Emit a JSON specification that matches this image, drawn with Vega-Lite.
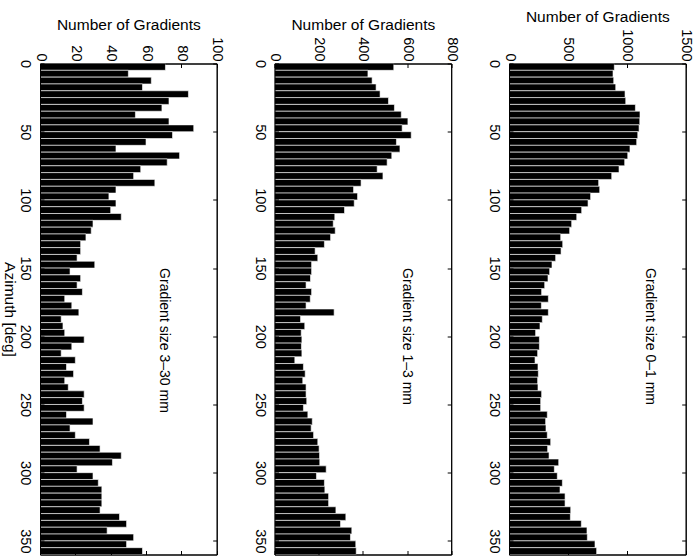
{
  "$schema": "https://vega.github.io/schema/vega-lite/v6.json",
  "autosize": {"type": "pad"},
  "padding": {"left": 0, "top": 8.5, "right": 1, "bottom": 0},
  "background": "white",
  "bounds": "flush",
  "spacing": 57.5,
  "config": {
    "view": {"stroke": "black", "strokeWidth": 1},
    "axis": {"domainColor": "black", "tickColor": "black", "labelColor": "black", "titleColor": "black", "labelFont": "Liberation Sans", "titleFont": "Liberation Sans", "titleFontWeight": "normal", "grid": false, "domainWidth": 1, "tickWidth": 1, "labelFontSize": 14.5, "titleFontSize": 15.5}
  },
  "datasets": {
    "p1": [
      {"a":0,"b":5,"n":894},{"a":5,"b":10,"n":883},{"a":10,"b":15,"n":889},{"a":15,"b":20,"n":906},{"a":20,"b":25,"n":985},{"a":25,"b":30,"n":991},{"a":30,"b":35,"n":1073},{"a":35,"b":40,"n":1112},{"a":40,"b":45,"n":1110},{"a":45,"b":50,"n":1104},{"a":50,"b":55,"n":1093},{"a":55,"b":60,"n":1084},{"a":60,"b":65,"n":1027},{"a":65,"b":70,"n":1008},{"a":70,"b":75,"n":982},{"a":75,"b":80,"n":934},{"a":80,"b":85,"n":872},{"a":85,"b":90,"n":761},{"a":90,"b":95,"n":770},{"a":95,"b":100,"n":693},
      {"a":100,"b":105,"n":671},{"a":105,"b":110,"n":617},{"a":110,"b":115,"n":575},{"a":115,"b":120,"n":532},{"a":120,"b":125,"n":515},{"a":125,"b":130,"n":439},{"a":130,"b":135,"n":456},{"a":135,"b":140,"n":442},{"a":140,"b":145,"n":396},{"a":145,"b":150,"n":365},{"a":150,"b":155,"n":345},{"a":155,"b":160,"n":331},{"a":160,"b":165,"n":303},{"a":165,"b":170,"n":277},{"a":170,"b":175,"n":334},{"a":175,"b":180,"n":275},{"a":180,"b":185,"n":334},{"a":185,"b":190,"n":283},{"a":190,"b":195,"n":263},{"a":195,"b":200,"n":226},
      {"a":200,"b":205,"n":258},{"a":205,"b":210,"n":258},{"a":210,"b":215,"n":243},{"a":215,"b":220,"n":221},{"a":220,"b":225,"n":246},{"a":225,"b":230,"n":249},{"a":230,"b":235,"n":243},{"a":235,"b":240,"n":246},{"a":240,"b":245,"n":277},{"a":245,"b":250,"n":269},{"a":250,"b":255,"n":269},{"a":255,"b":260,"n":325},{"a":260,"b":265,"n":311},{"a":265,"b":270,"n":314},{"a":270,"b":275,"n":325},{"a":275,"b":280,"n":354},{"a":280,"b":285,"n":328},{"a":285,"b":290,"n":340},{"a":290,"b":295,"n":422},{"a":295,"b":300,"n":385},
      {"a":300,"b":305,"n":410},{"a":305,"b":310,"n":453},{"a":310,"b":315,"n":433},{"a":315,"b":320,"n":476},{"a":320,"b":325,"n":476},{"a":325,"b":330,"n":524},{"a":330,"b":335,"n":521},{"a":335,"b":340,"n":614},{"a":340,"b":345,"n":662},{"a":345,"b":350,"n":665},{"a":350,"b":355,"n":730},{"a":355,"b":360,"n":744}
    ],
    "p2": [
      {"a":0,"b":5,"n":540},{"a":5,"b":10,"n":423},{"a":10,"b":15,"n":442},{"a":15,"b":20,"n":460},{"a":20,"b":25,"n":478},{"a":25,"b":30,"n":516},{"a":30,"b":35,"n":543},{"a":35,"b":40,"n":574},{"a":40,"b":45,"n":604},{"a":45,"b":50,"n":578},{"a":50,"b":55,"n":619},{"a":55,"b":60,"n":552},{"a":60,"b":65,"n":568},{"a":65,"b":70,"n":531},{"a":70,"b":75,"n":510},{"a":75,"b":80,"n":465},{"a":80,"b":85,"n":491},{"a":85,"b":90,"n":392},{"a":90,"b":95,"n":358},{"a":95,"b":100,"n":376},
      {"a":100,"b":105,"n":361},{"a":105,"b":110,"n":317},{"a":110,"b":115,"n":273},{"a":115,"b":120,"n":266},{"a":120,"b":125,"n":275},{"a":125,"b":130,"n":254},{"a":130,"b":135,"n":226},{"a":135,"b":140,"n":184},{"a":140,"b":145,"n":196},{"a":145,"b":150,"n":168},{"a":150,"b":155,"n":168},{"a":155,"b":160,"n":163},{"a":160,"b":165,"n":143},{"a":165,"b":170,"n":168},{"a":170,"b":175,"n":162},{"a":175,"b":180,"n":143},{"a":180,"b":185,"n":270},{"a":185,"b":190,"n":118},{"a":190,"b":195,"n":137},{"a":195,"b":200,"n":121},
      {"a":200,"b":205,"n":124},{"a":205,"b":210,"n":122},{"a":210,"b":215,"n":124},{"a":215,"b":220,"n":92},{"a":220,"b":225,"n":131},{"a":225,"b":230,"n":139},{"a":230,"b":235,"n":128},{"a":235,"b":240,"n":143},{"a":240,"b":245,"n":143},{"a":245,"b":250,"n":146},{"a":250,"b":255,"n":131},{"a":255,"b":260,"n":151},{"a":260,"b":265,"n":171},{"a":265,"b":270,"n":166},{"a":270,"b":275,"n":177},{"a":275,"b":280,"n":196},{"a":280,"b":285,"n":202},{"a":285,"b":290,"n":204},{"a":290,"b":295,"n":205},{"a":295,"b":300,"n":234},
      {"a":300,"b":305,"n":190},{"a":305,"b":310,"n":226},{"a":310,"b":315,"n":228},{"a":315,"b":320,"n":245},{"a":320,"b":325,"n":245},{"a":325,"b":330,"n":278},{"a":330,"b":335,"n":323},{"a":335,"b":340,"n":299},{"a":340,"b":345,"n":350},{"a":345,"b":350,"n":344},{"a":350,"b":355,"n":368},{"a":355,"b":360,"n":370}
    ],
    "p3": [
      {"a":0,"b":5,"n":71},{"a":5,"b":10,"n":50},{"a":10,"b":15,"n":63},{"a":15,"b":20,"n":58},{"a":20,"b":25,"n":84},{"a":25,"b":30,"n":73},{"a":30,"b":35,"n":69},{"a":35,"b":40,"n":54},{"a":40,"b":45,"n":73},{"a":45,"b":50,"n":87},{"a":50,"b":55,"n":75},{"a":55,"b":60,"n":60},{"a":60,"b":65,"n":43},{"a":65,"b":70,"n":79},{"a":70,"b":75,"n":72},{"a":75,"b":80,"n":57},{"a":80,"b":85,"n":53},{"a":85,"b":90,"n":65},{"a":90,"b":95,"n":43},{"a":95,"b":100,"n":39},
      {"a":100,"b":105,"n":43},{"a":105,"b":110,"n":40},{"a":110,"b":115,"n":46},{"a":115,"b":120,"n":30},{"a":120,"b":125,"n":29},{"a":125,"b":130,"n":26},{"a":130,"b":135,"n":23},{"a":135,"b":140,"n":23},{"a":140,"b":145,"n":21},{"a":145,"b":150,"n":31},{"a":150,"b":155,"n":17},{"a":155,"b":160,"n":23},{"a":160,"b":165,"n":21},{"a":165,"b":170,"n":24},{"a":170,"b":175,"n":14},{"a":175,"b":180,"n":18},{"a":180,"b":185,"n":22},{"a":185,"b":190,"n":12},{"a":190,"b":195,"n":13},{"a":195,"b":200,"n":14},
      {"a":200,"b":205,"n":25},{"a":205,"b":210,"n":18},{"a":210,"b":215,"n":12},{"a":215,"b":220,"n":20},{"a":220,"b":225,"n":15},{"a":225,"b":230,"n":19},{"a":230,"b":235,"n":14},{"a":235,"b":240,"n":16},{"a":240,"b":245,"n":25},{"a":245,"b":250,"n":24},{"a":250,"b":255,"n":25},{"a":255,"b":260,"n":15},{"a":260,"b":265,"n":30},{"a":265,"b":270,"n":17},{"a":270,"b":275,"n":20},{"a":275,"b":280,"n":28},{"a":280,"b":285,"n":34},{"a":285,"b":290,"n":46},{"a":290,"b":295,"n":41},{"a":295,"b":300,"n":21},
      {"a":300,"b":305,"n":30},{"a":305,"b":310,"n":33},{"a":310,"b":315,"n":35},{"a":315,"b":320,"n":35},{"a":320,"b":325,"n":35},{"a":325,"b":330,"n":34},{"a":330,"b":335,"n":45},{"a":335,"b":340,"n":49},{"a":340,"b":345,"n":38},{"a":345,"b":350,"n":53},{"a":350,"b":355,"n":49},{"a":355,"b":360,"n":58}
    ]
  },
  "hconcat": [
    {
      "width": 176.7, "height": 491,
      "layer": [
        {
          "data": {"name": "p3"},
          "mark": {"type": "rect", "fill": "black", "stroke": "white", "strokeWidth": 0.6},
          "encoding": {
            "y": {"field": "a", "type": "quantitative", "scale": {"domain": [0, 360], "nice": false, "reverse": true, "zero": false},
                  "axis": {"orient": "left", "values": [0,50,100,150,200,250,300,350], "format": "d", "tickSize": -4, "labelAngle": 90, "labelAlign": "center", "labelBaseline": "top", "labelPadding": 12.5, "title": "Azimuth [deg]", "titleAngle": 90, "titleAlign": "center", "titleBaseline": "top", "titleX": -24, "titleY": 245.5, "zindex": 1}},
            "y2": {"field": "b"},
            "x": {"field": "n", "type": "quantitative", "scale": {"domain": [0, 100], "nice": false},
                  "axis": {"orient": "top", "values": [0,20,40,60,80,100], "format": "d", "tickSize": -4, "labelAngle": 90, "labelAlign": "right", "labelBaseline": "middle", "labelPadding": 6.5, "title": "Number of Gradients", "titlePadding": 4, "zindex": 1}},
            "x2": {"datum": 0}
          }
        },
        {
          "data": {"values": [{}]},
          "mark": {"type": "text", "angle": 90, "align": "left", "baseline": "middle", "fontSize": 14, "font": "Liberation Sans", "color": "black"},
          "encoding": {
            "x": {"datum": 70, "type": "quantitative", "axis": {"orient": "bottom", "values": [0,20,40,60,80,100], "tickSize": -4, "labels": false, "title": null, "zindex": 1}},
            "y": {"datum": 150, "type": "quantitative", "axis": {"orient": "right", "values": [0,50,100,150,200,250,300,350], "tickSize": -4, "labels": false, "title": null, "zindex": 1}},
            "text": {"value": "Gradient size 3–30 mm"}
          }
        }
      ],
      "resolve": {"axis": {"x": "independent", "y": "independent"}}
    },
    {
      "width": 176.7, "height": 491,
      "layer": [
        {
          "data": {"name": "p2"},
          "mark": {"type": "rect", "fill": "black", "stroke": "white", "strokeWidth": 0.6},
          "encoding": {
            "y": {"field": "a", "type": "quantitative", "scale": {"domain": [0, 360], "nice": false, "reverse": true, "zero": false},
                  "axis": {"orient": "left", "values": [0,50,100,150,200,250,300,350], "format": "d", "tickSize": -4, "labelAngle": 90, "labelAlign": "center", "labelBaseline": "top", "labelPadding": 12.5, "title": null, "zindex": 1}},
            "y2": {"field": "b"},
            "x": {"field": "n", "type": "quantitative", "scale": {"domain": [0, 800], "nice": false},
                  "axis": {"orient": "top", "values": [0,200,400,600,800], "format": "d", "tickSize": -4, "labelAngle": 90, "labelAlign": "right", "labelBaseline": "middle", "labelPadding": 6.5, "title": "Number of Gradients", "titlePadding": 4, "zindex": 1}},
            "x2": {"datum": 0}
          }
        },
        {
          "data": {"values": [{}]},
          "mark": {"type": "text", "angle": 90, "align": "left", "baseline": "middle", "fontSize": 14, "font": "Liberation Sans", "color": "black"},
          "encoding": {
            "x": {"datum": 600, "type": "quantitative", "axis": {"orient": "bottom", "values": [0,200,400,600,800], "tickSize": -4, "labels": false, "title": null, "zindex": 1}},
            "y": {"datum": 150, "type": "quantitative", "axis": {"orient": "right", "values": [0,50,100,150,200,250,300,350], "tickSize": -4, "labels": false, "title": null, "zindex": 1}},
            "text": {"value": "Gradient size 1–3 mm"}
          }
        }
      ],
      "resolve": {"axis": {"x": "independent", "y": "independent"}}
    },
    {
      "width": 176.7, "height": 491,
      "layer": [
        {
          "data": {"name": "p1"},
          "mark": {"type": "rect", "fill": "black", "stroke": "white", "strokeWidth": 0.6},
          "encoding": {
            "y": {"field": "a", "type": "quantitative", "scale": {"domain": [0, 360], "nice": false, "reverse": true, "zero": false},
                  "axis": {"orient": "left", "values": [0,50,100,150,200,250,300,350], "format": "d", "tickSize": -4, "labelAngle": 90, "labelAlign": "center", "labelBaseline": "top", "labelPadding": 12.5, "title": null, "zindex": 1}},
            "y2": {"field": "b"},
            "x": {"field": "n", "type": "quantitative", "scale": {"domain": [0, 1500], "nice": false},
                  "axis": {"orient": "top", "values": [0,500,1000,1500], "format": "d", "tickSize": -4, "labelAngle": 90, "labelAlign": "right", "labelBaseline": "middle", "labelPadding": 6.5, "title": "Number of Gradients", "titlePadding": 4, "zindex": 1}},
            "x2": {"datum": 0}
          }
        },
        {
          "data": {"values": [{}]},
          "mark": {"type": "text", "angle": 90, "align": "left", "baseline": "middle", "fontSize": 14, "font": "Liberation Sans", "color": "black"},
          "encoding": {
            "x": {"datum": 1200, "type": "quantitative", "axis": {"orient": "bottom", "values": [0,500,1000,1500], "tickSize": -4, "labels": false, "title": null, "zindex": 1}},
            "y": {"datum": 150, "type": "quantitative", "axis": {"orient": "right", "values": [0,50,100,150,200,250,300,350], "tickSize": -4, "labels": false, "title": null, "zindex": 1}},
            "text": {"value": "Gradient size 0–1 mm"}
          }
        }
      ],
      "resolve": {"axis": {"x": "independent", "y": "independent"}}
    }
  ]
}
